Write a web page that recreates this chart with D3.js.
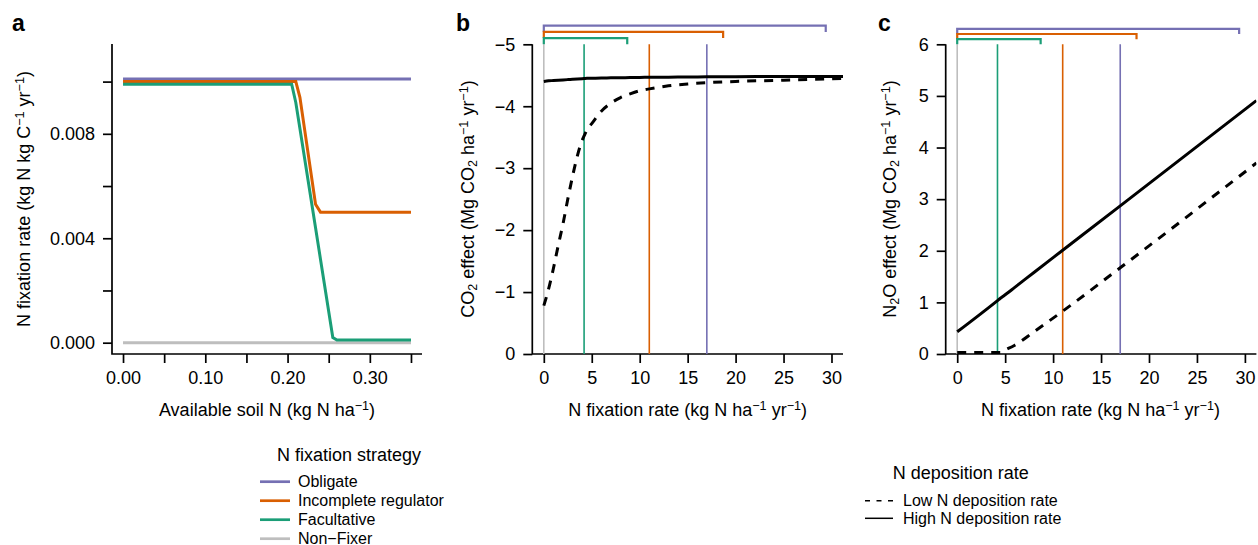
<!DOCTYPE html>
<html>
<head>
<meta charset="utf-8">
<script src="https://cdn.jsdelivr.net/npm/d3@7"></script>
<style>
  body { margin: 0; background: #fff; }
  svg { font-family: "Liberation Sans", Arial, Helvetica, sans-serif; }
</style>
</head>
<body>
<svg id="chart" width="1258" height="545"></svg>
<script>
// ---- data ----
const strategies = ["Obligate", "Incomplete regulator", "Facultative", "Non\u2212Fixer"];
const strategyColors = ["#7570b3", "#d95f02", "#1b9e77", "#bebebe"];

// panel a: N fixation rate vs available soil N
const soilN       = [0, 0.205, 0.21, 0.215, 0.234, 0.24, 0.255, 0.26, 0.35];
const obligate    = [0.0101, 0.0101, 0.0101, 0.0101, 0.0101, 0.0101, 0.0101, 0.0101, 0.0101];
const incomplete  = [0.0100, 0.0100, 0.0100, 0.0094, 0.0053, 0.0050, 0.0050, 0.0050, 0.0050];
const facultative = [0.0099, 0.0099, 0.0092, 0.0082, 0.0044, 0.0032, 0.0002, 0.0001, 0.0001];
const nonFixer    = [0, 0, 0, 0, 0, 0, 0, 0, 0];

// panel b: CO2 effect vs N fixation rate
const nfixB   = [0, 0.5, 1, 1.5, 2, 2.5, 3, 3.5, 4, 4.2, 4.5, 5, 6, 7, 8, 9, 10, 11, 13, 15, 17, 20, 25, 31.2];
const co2Low  = [-0.78, -1.05, -1.38, -1.75, -2.1, -2.5, -2.87, -3.2, -3.45, -3.52, -3.62, -3.72, -3.92, -4.05, -4.14, -4.2, -4.25, -4.28, -4.33, -4.36, -4.38, -4.40, -4.42, -4.45];
const co2High = [-4.40, -4.41, -4.415, -4.42, -4.425, -4.43, -4.435, -4.44, -4.445, -4.447, -4.45, -4.452, -4.455, -4.458, -4.46, -4.462, -4.465, -4.467, -4.47, -4.472, -4.475, -4.478, -4.48, -4.48];

// panel c: N2O effect vs N fixation rate
const nfixC   = [0, 4.3, 4.5, 4.8, 6, 8, 11, 17, 31.2];
const n2oLow  = [0.03, 0.03, 0.03, 0.06, 0.17, 0.43, 0.83, 1.67, 3.70];
const n2oHigh = [0.43, 1.05, 1.08, 1.12, 1.29, 1.58, 2.01, 2.87, 4.91];

// fixation rate of each strategy (vertical lines) and upper range (brackets)
const stratRate = [17.0, 11.0, 4.2, 0];
const stratMax  = [29.4, 18.7, 8.7];

const xTicksA = [0, 0.05, 0.10, 0.15, 0.20, 0.25, 0.30, 0.35];
const xLabelsA = [0, 0.10, 0.20, 0.30];
const yTicksA = [0, 0.002, 0.004, 0.006, 0.008, 0.010];
const yLabelsA = [0, 0.004, 0.008];
const xTicksBC = [0, 5, 10, 15, 20, 25, 30];
const yTicksB = [0, -1, -2, -3, -4, -5];
const yTicksC = [0, 1, 2, 3, 4, 5, 6];

const svg = d3.select("#chart");
const fmtMinus = v => String(v).replace("-", "\u2212");

function rich(sel, parts) {
  // parts: [text, "sup"|"sub"|null]
  parts.forEach(([t, kind]) => {
    if (!kind) sel.append("tspan").text(t);
    else {
      sel.append("tspan")
        .attr("font-size", "70%")
        .attr("baseline-shift", kind === "sup" ? "45%" : "-25%")
        .text(t);
    }
  });
}

function frame(g, x, y) {
  const [x0, x1] = x.range(), [y0, y1] = y.range();
  g.append("path")
    .attr("d", `M${x0},${y1}V${y0}H${x1}`)
    .attr("fill", "none").attr("stroke", "#000").attr("stroke-width", 1.7);
}

function axes(g, x, y, xt, xl, yt, yl, xfmt, yfmt) {
  const y0 = y.range()[0], x0 = x.range()[0];
  const ax = g.append("g").attr("transform", `translate(0,${y0})`)
    .call(d3.axisBottom(x).tickValues(xt).tickSize(9).tickPadding(8)
      .tickFormat(d => xl.some(v => Math.abs(v - d) < 1e-9) ? xfmt(d) : ""));
  const ay = g.append("g").attr("transform", `translate(${x0},0)`)
    .call(d3.axisLeft(y).tickValues(yt).tickSize(9).tickPadding(8)
      .tickFormat(d => yl.some(v => Math.abs(v - d) < 1e-9) ? yfmt(d) : ""));
  [ax, ay].forEach(a => {
    a.select(".domain").remove();
    a.selectAll("line").attr("stroke-width", 1.7);
    a.selectAll("text").attr("font-size", 18).attr("fill", "#000");
  });
}

function clip(id, x, y) {
  const [x0, x1] = x.range(), [y0, y1] = y.range();
  svg.append("clipPath").attr("id", id).append("rect")
    .attr("x", x0).attr("y", y1 - 40).attr("width", x1 - x0).attr("height", y0 - y1 + 40);
}

// ---- panel a ----
const xA = d3.scaleLinear([-0.0134, 0.3634], [112, 422]);
const yA = d3.scaleLinear([-0.000433, 0.01144], [354, 44]);
const gA = svg.append("g");
frame(gA, xA, yA);
axes(gA, xA, yA, xTicksA, xLabelsA, yTicksA, yLabelsA, d3.format(".2f"), d3.format(".3f"));
const lineA = d3.line().x((d, i) => xA(soilN[i])).y(d => yA(d));
[nonFixer, obligate, incomplete, facultative].forEach((s, k) => {
  const ci = [3, 0, 1, 2][k];
  gA.append("path").attr("d", lineA(s)).attr("fill", "none")
    .attr("stroke", strategyColors[ci]).attr("stroke-width", 3);
});

// ---- panel b ----
const xB = d3.scaleLinear([-1.2, 31.2], [532.3, 843]);
const yB = d3.scaleLinear([0, -5], [354, 44.3]);
const xC = d3.scaleLinear([-1.2, 31.2], [945.7, 1256.4]);
const yC = d3.scaleLinear([0, 6], [354, 44.3]);

function effectPanel(x, y, yt, top, step, xs, low, high, id) {
  const g = svg.append("g");
  clip(id, x, y);
  frame(g, x, y);
  axes(g, x, y, xTicksBC, xTicksBC, yt, yt, d => d, fmtMinus);
  // strategy lines
  stratRate.forEach((r, i) => {
    g.append("line").attr("x1", x(r)).attr("x2", x(r))
      .attr("y1", y(0)).attr("y2", y(top))
      .attr("stroke", strategyColors[i]).attr("stroke-width", 1.6);
  });
  // range brackets
  stratMax.forEach((m, i) => {
    const lev = top + step * (3 - i), base = top + step * (2 - i);
    g.append("path")
      .attr("d", `M${x(0)},${y(base)}V${y(lev)}H${x(m)}V${y(base)}`)
      .attr("fill", "none").attr("stroke", strategyColors[i]).attr("stroke-width", 2.2);
  });
  const line = d3.line().x((d, i) => x(xs[i])).y(d => y(d)).curve(d3.curveMonotoneX);
  const cg = g.append("g").attr("clip-path", `url(#${id})`);
  cg.append("path").attr("d", line(low)).attr("fill", "none")
    .attr("stroke", "#000").attr("stroke-width", 3).attr("stroke-dasharray", "9,8");
  cg.append("path").attr("d", line(high)).attr("fill", "none")
    .attr("stroke", "#000").attr("stroke-width", 3);
  return g;
}
effectPanel(xB, yB, yTicksB, -5, -0.1, nfixB, co2Low, co2High, "clipB");
effectPanel(xC, yC, yTicksC, 6, 0.1, nfixC, n2oLow, n2oHigh, "clipC");

// ---- titles ----
function xTitle(cx, parts) {
  const t = svg.append("text").attr("x", cx).attr("y", 416)
    .attr("text-anchor", "middle").attr("font-size", 18);
  rich(t, parts);
}
function yTitle(cx, cy, parts) {
  const t = svg.append("text").attr("transform", `translate(${cx},${cy}) rotate(-90)`)
    .attr("text-anchor", "middle").attr("dy", "0.35em").attr("font-size", 18);
  rich(t, parts);
}
const m1 = "\u22121";
xTitle(267, [["Available soil N (kg N ha"], [m1, "sup"], [")"]]);
xTitle(687.6, [["N fixation rate (kg N ha"], [m1, "sup"], [" yr"], [m1, "sup"], [")"]]);
xTitle(1100.5, [["N fixation rate (kg N ha"], [m1, "sup"], [" yr"], [m1, "sup"], [")"]]);
yTitle(24, 199, [["N fixation rate (kg N kg C"], [m1, "sup"], [" yr"], [m1, "sup"], [")"]]);
yTitle(468, 199, [["CO"], ["2", "sub"], [" effect (Mg CO"], ["2", "sub"], [" ha"], [m1, "sup"], [" yr"], [m1, "sup"], [")"]]);
yTitle(890, 199, [["N"], ["2", "sub"], ["O effect (Mg CO"], ["2", "sub"], [" ha"], [m1, "sup"], [" yr"], [m1, "sup"], [")"]]);

[["a", 12], ["b", 456], ["c", 878]].forEach(([l, x]) => {
  svg.append("text").attr("x", x).attr("y", 31).attr("font-size", 23)
    .attr("font-weight", "bold").text(l);
});

// ---- legends ----
svg.append("text").attr("x", 349).attr("y", 461).attr("text-anchor", "middle")
  .attr("font-size", 18).text("N fixation strategy");
strategies.forEach((s, i) => {
  const yy = 481.7 + i * 19;
  svg.append("line").attr("x1", 260).attr("x2", 290).attr("y1", yy).attr("y2", yy)
    .attr("stroke", strategyColors[i]).attr("stroke-width", 2.7);
  svg.append("text").attr("x", 298).attr("y", yy).attr("dy", "0.35em")
    .attr("font-size", 16).text(s);
});

const depLabels = ["Low N deposition rate", "High N deposition rate"];
const depDash = ["5,6.5", null];
svg.append("text").attr("x", 960.7).attr("y", 479).attr("text-anchor", "middle")
  .attr("font-size", 18).text("N deposition rate");
depLabels.forEach((s, i) => {
  const yy = 500.7 + i * 17.6;
  svg.append("line").attr("x1", 865).attr("x2", 893).attr("y1", yy).attr("y2", yy)
    .attr("stroke", "#000").attr("stroke-width", 1.5)
    .attr("stroke-dasharray", depDash[i]);
  svg.append("text").attr("x", 903).attr("y", yy).attr("dy", "0.35em")
    .attr("font-size", 16).text(s);
});
</script>
</body>
</html>
